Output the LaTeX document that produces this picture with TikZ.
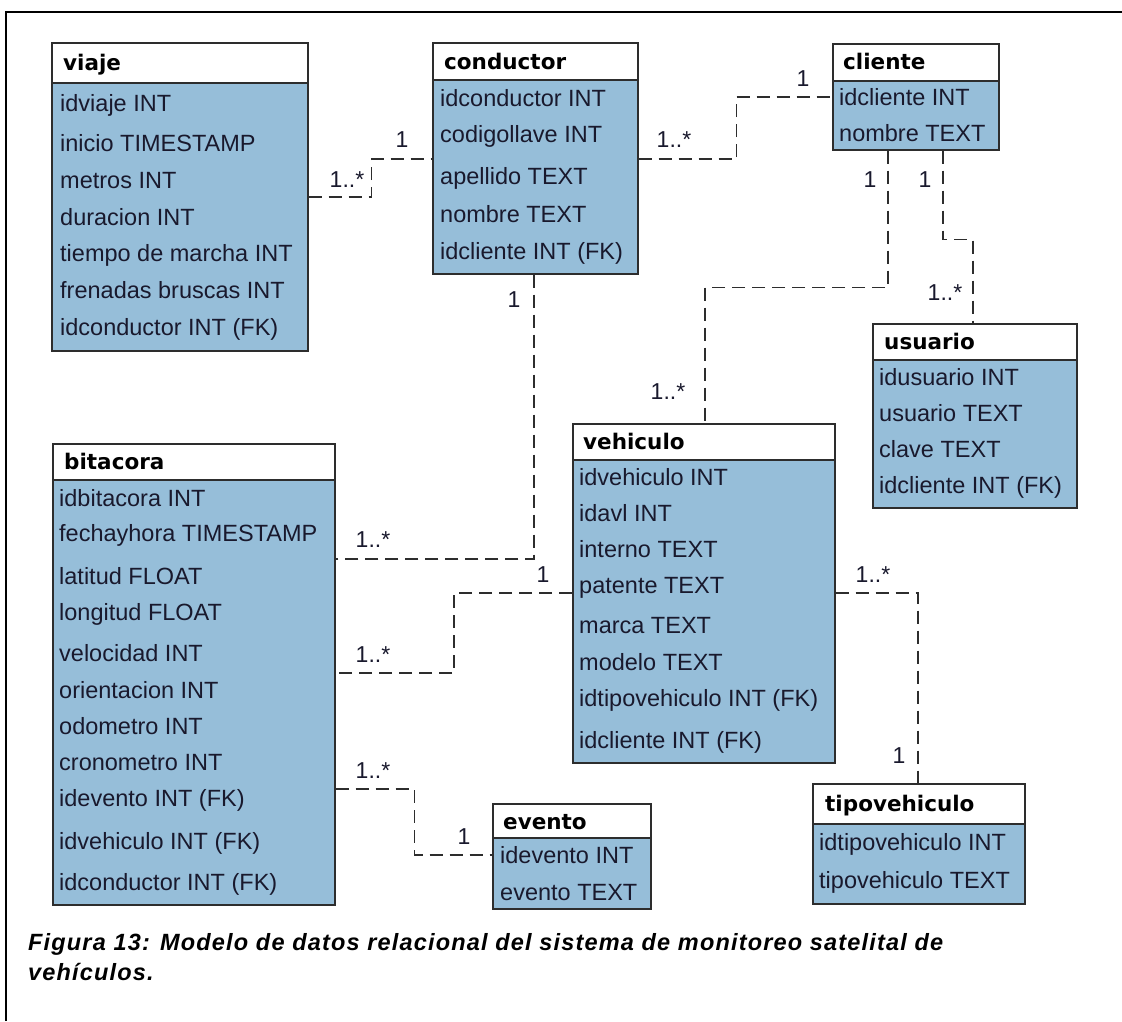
\documentclass[tikz,border=0pt]{standalone}
\usepackage{fontspec}
\setmainfont{Liberation Sans}
\newfontfamily\hdrfont{DejaVu Sans}
\newfontfamily\capfont{Liberation Sans}[LetterSpace=5.0]
\definecolor{boxfill}{RGB}{150,190,217}
\definecolor{boxline}{RGB}{45,45,45}
\definecolor{rowc}{RGB}{25,25,45}
\tikzset{
  hdrbox/.style={draw=boxline, line width=1.6pt, fill=white, anchor=north west, inner sep=0pt},
  bodybox/.style={draw=boxline, line width=1.6pt, fill=boxfill, anchor=north west, inner sep=0pt},
  hdrtext/.style={anchor=west, inner sep=0pt, font=\hdrfont\bfseries\fontsize{21.5pt}{24pt}\selectfont, text height=16pt, text depth=0pt},
  rowtext/.style={anchor=west, inner sep=0pt, font=\fontsize{23.5pt}{27pt}\selectfont, text=rowc, text height=16.8pt, text depth=0pt},
  conn/.style={draw=boxline, line width=1.6pt, dash pattern=on 13pt off 7pt},
  lbl/.style={inner sep=0pt, font=\fontsize{23pt}{26pt}\selectfont, text=rowc},
  captext/.style={anchor=base west, inner sep=0pt, font=\capfont\bfseries\itshape\fontsize{23.5pt}{28pt}\selectfont}
}
\begin{document}
\begin{tikzpicture}[x=1pt,y=-1pt]
\useasboundingbox (0,0) rectangle (1122,1021);
\fill[white] (0,0) rectangle (1122,1021);
\draw[line width=2pt, black] (6,1021) -- (6,12) -- (1122,12);

% viaje
\node[bodybox, minimum width=256pt, minimum height=268pt] (viajeB) at (51,82) {};
\node[hdrbox, minimum width=256pt, minimum height=40pt] (viaje) at (51,42) {};
\node[hdrtext] (viajeT) at (63,62) {viaje};
\foreach \t/\y [count=\i] in {idviaje INT/103, inicio TIMESTAMP/143, metros INT/180, duracion INT/217, tiempo de marcha INT/253, frenadas bruscas INT/290, idconductor INT (FK)/327}
  {\node[rowtext] (viaje-\i) at (60,\y) {\t};}

% conductor
\node[bodybox, minimum width=205pt, minimum height=194pt] (conductorB) at (432,79) {};
\node[hdrbox, minimum width=205pt, minimum height=37pt] (conductor) at (432,42) {};
\node[hdrtext] (conductorT) at (444,61) {conductor};
\foreach \t/\y [count=\i] in {idconductor INT/98, codigollave INT/134, apellido TEXT/176, nombre TEXT/214, idcliente INT (FK)/251}
  {\node[rowtext] (conductor-\i) at (440,\y) {\t};}

% cliente
\node[bodybox, minimum width=166pt, minimum height=69pt] (clienteB) at (832,80) {};
\node[hdrbox, minimum width=166pt, minimum height=37pt] (cliente) at (832,43) {};
\node[hdrtext] (clienteT) at (843,61) {cliente};
\foreach \t/\y [count=\i] in {idcliente INT/97, nombre TEXT/133}
  {\node[rowtext] (cliente-\i) at (839,\y) {\t};}

% usuario
\node[bodybox, minimum width=204pt, minimum height=148pt] (usuarioB) at (872,359) {};
\node[hdrbox, minimum width=204pt, minimum height=36pt] (usuario) at (872,323) {};
\node[hdrtext] (usuarioT) at (884,341) {usuario};
\foreach \t/\y [count=\i] in {idusuario INT/377, usuario TEXT/413, clave TEXT/449, idcliente INT (FK)/485}
  {\node[rowtext] (usuario-\i) at (879,\y) {\t};}

% bitacora
\node[bodybox, minimum width=282pt, minimum height=425pt] (bitacoraB) at (52,479) {};
\node[hdrbox, minimum width=282pt, minimum height=36pt] (bitacora) at (52,443) {};
\node[hdrtext] (bitacoraT) at (64,461) {bitacora};
\foreach \t/\y [count=\i] in {idbitacora INT/498, fechayhora TIMESTAMP/533, latitud FLOAT/576, longitud FLOAT/612, velocidad INT/653, orientacion INT/690, odometro INT/726, cronometro INT/762, idevento INT (FK)/798, idvehiculo INT (FK)/841, idconductor INT (FK)/882}
  {\node[rowtext] (bitacora-\i) at (59,\y) {\t};}

% vehiculo
\node[bodybox, minimum width=262pt, minimum height=303pt] (vehiculoB) at (572,459) {};
\node[hdrbox, minimum width=262pt, minimum height=36pt] (vehiculo) at (572,423) {};
\node[hdrtext] (vehiculoT) at (583,441) {vehiculo};
\foreach \t/\y [count=\i] in {idvehiculo INT/477, idavl INT/513, interno TEXT/549, patente TEXT/585, marca TEXT/625, modelo TEXT/662, idtipovehiculo INT (FK)/698, idcliente INT (FK)/740}
  {\node[rowtext] (vehiculo-\i) at (579,\y) {\t};}

% evento
\node[bodybox, minimum width=158pt, minimum height=71pt] (eventoB) at (492,837) {};
\node[hdrbox, minimum width=158pt, minimum height=34pt] (evento) at (492,803) {};
\node[hdrtext] (eventoT) at (503,821) {evento};
\foreach \t/\y [count=\i] in {idevento INT/855, evento TEXT/892}
  {\node[rowtext] (evento-\i) at (500,\y) {\t};}

% tipovehiculo
\node[bodybox, minimum width=212pt, minimum height=80pt] (tipoB) at (812,823) {};
\node[hdrbox, minimum width=212pt, minimum height=40pt] (tipo) at (812,783) {};
\node[hdrtext] (tipoT) at (825,803) {tipovehiculo};
\foreach \t/\y [count=\i] in {idtipovehiculo INT/842, tipovehiculo TEXT/880}
  {\node[rowtext] (tipo-\i) at (819,\y) {\t};}

% connectors
\draw[conn] ([yshift=-115pt]viajeB.north east) -- ++(63,0) |- ([yshift=-80pt]conductorB.north west);
\node[lbl] (l1a) at (347,180) {1..*};
\node[lbl] (l1b) at (402,140) {1};

\draw[conn] ([yshift=-80pt]conductorB.north east) -- ++(98,0) |- ([yshift=-17pt]clienteB.north west);
\node[lbl] (l2a) at (674,140) {1..*};
\node[lbl] (l2b) at (803,79) {1};

\draw[conn] ([xshift=56pt]clienteB.south west) -- ++(0,137) -| ([xshift=133pt]vehiculo.north west);
\node[lbl] (l3a) at (870,180) {1};
\node[lbl] (l3b) at (668,392) {1..*};

\draw[conn] ([xshift=111pt]clienteB.south west) -- ++(0,89) -| ([xshift=101pt]usuario.north west);
\node[lbl] (l4a) at (925,180) {1};
\node[lbl] (l4b) at (945,293) {1..*};

\draw[conn] ([xshift=102pt]conductorB.south west) |- ([yshift=-80pt]bitacoraB.north east);
\node[lbl] (l5a) at (514,300) {1};
\node[lbl] (l5b) at (373,540) {1..*};

\draw[conn] ([yshift=-134pt]vehiculoB.north west) -- ++(-118,0) |- ([yshift=-194pt]bitacoraB.north east);
\node[lbl] (l6a) at (543,575) {1};
\node[lbl] (l6b) at (373,655) {1..*};

\draw[conn] ([yshift=-310pt]bitacoraB.north east) -- ++(79,0) |- ([yshift=-18pt]eventoB.north west);
\node[lbl] (l7a) at (373,771) {1..*};
\node[lbl] (l7b) at (464,837) {1};

\draw[conn] ([yshift=-134pt]vehiculoB.north east) -| ([xshift=106pt]tipo.north west);
\node[lbl] (l8a) at (873,575) {1..*};
\node[lbl] (l8b) at (899,756) {1};

% caption
\node[captext] (cap1) at (28,950) {Figura 13: Modelo de datos relacional del sistema de monitoreo satelital de};
\node[captext] (cap2) at (28,980) {vehículos.};
\end{tikzpicture}
\end{document}
